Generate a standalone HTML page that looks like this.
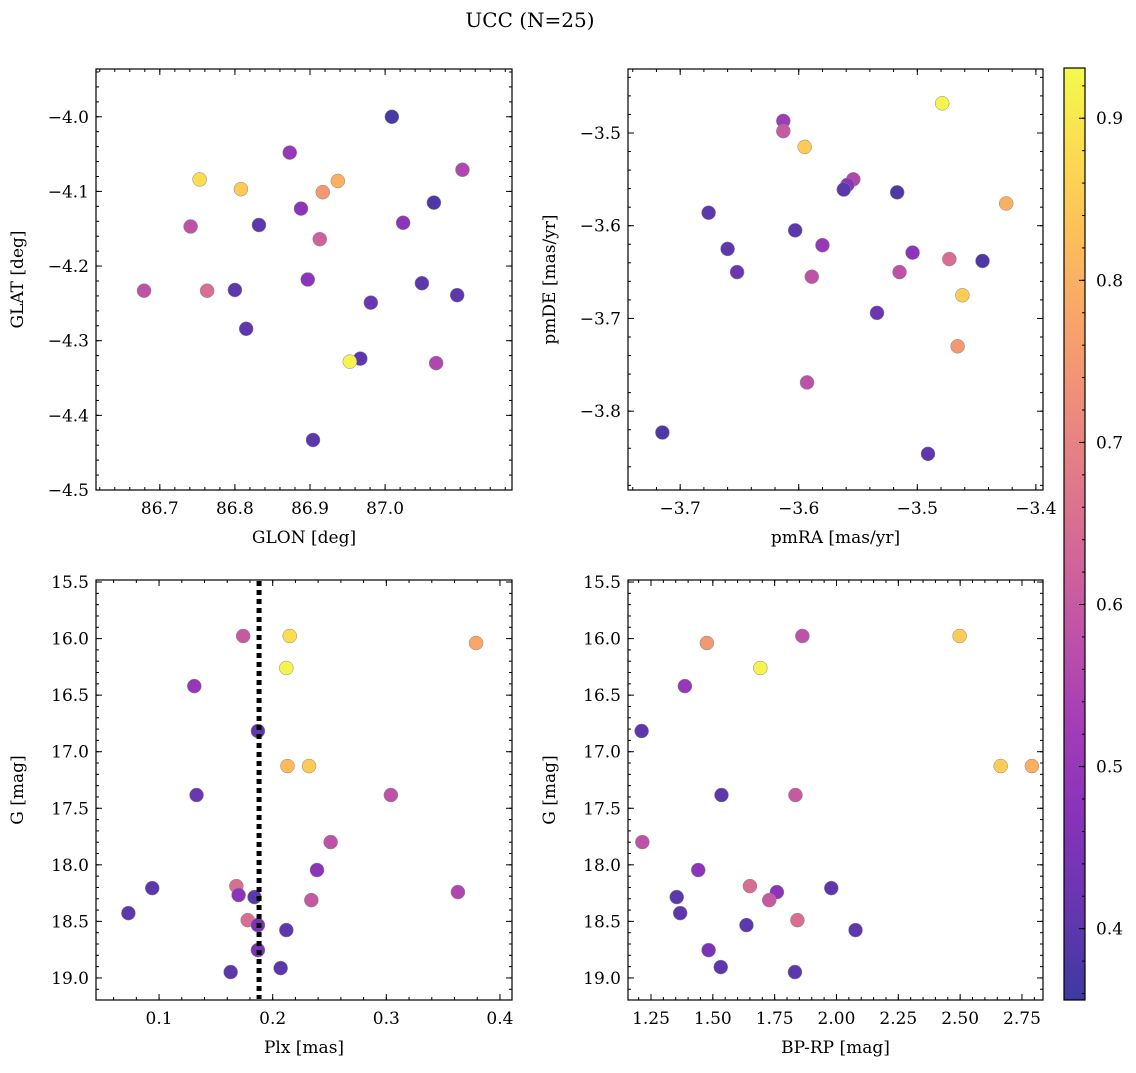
<!DOCTYPE html>
<html><head><meta charset="utf-8"><style>
body{margin:0;background:#fff;}
svg text{font-family:"DejaVu Serif","Liberation Serif",serif;fill:#000;}
</style></head><body>
<svg id="fig" width="1136" height="1068" xmlns="http://www.w3.org/2000/svg">
<text x="530" y="27" font-size="20" text-anchor="middle">UCC (N=25)</text>
</svg>
<script>
// Panel 1: GLON vs GLAT
const glonA=[87.009,87.103,87.065,86.873,86.753,86.808,86.937,86.917,86.888,86.741,86.832,86.913,87.024,86.679,86.763,86.800,86.897,87.049,87.096,86.981,86.815,86.967,86.953,87.068,86.904];
const glatA=[-4.000,-4.071,-4.115,-4.048,-4.084,-4.097,-4.086,-4.101,-4.123,-4.147,-4.145,-4.164,-4.142,-4.233,-4.233,-4.232,-4.218,-4.223,-4.239,-4.249,-4.284,-4.324,-4.328,-4.330,-4.433];
const probA=[0.37,0.55,0.38,0.50,0.88,0.85,0.80,0.75,0.48,0.58,0.40,0.62,0.48,0.58,0.65,0.40,0.48,0.40,0.40,0.42,0.40,0.40,0.92,0.55,0.40];
// Panel 2: pmRA vs pmDE
const pmraB=[-3.479,-3.613,-3.613,-3.595,-3.554,-3.559,-3.562,-3.517,-3.425,-3.676,-3.603,-3.580,-3.660,-3.504,-3.473,-3.445,-3.652,-3.515,-3.589,-3.462,-3.534,-3.466,-3.593,-3.715,-3.491];
const pmdeB=[-3.468,-3.487,-3.498,-3.515,-3.550,-3.556,-3.561,-3.564,-3.576,-3.586,-3.605,-3.621,-3.625,-3.629,-3.636,-3.638,-3.650,-3.650,-3.655,-3.675,-3.694,-3.730,-3.769,-3.823,-3.846];
const probB=[0.92,0.52,0.60,0.85,0.55,0.48,0.40,0.38,0.80,0.40,0.40,0.50,0.40,0.48,0.65,0.38,0.42,0.58,0.58,0.85,0.42,0.75,0.58,0.38,0.40];
// Panel 3: Plx vs G
const plxC=[0.174,0.215,0.379,0.212,0.131,0.187,0.213,0.232,0.133,0.304,0.251,0.239,0.094,0.168,0.363,0.170,0.184,0.234,0.073,0.178,0.187,0.212,0.187,0.163,0.207];
const gC=[15.977,15.977,16.039,16.260,16.420,16.817,17.127,17.127,17.383,17.383,17.799,18.046,18.206,18.188,18.241,18.267,18.285,18.312,18.427,18.489,18.533,18.577,18.754,18.948,18.913];
const probC=[0.60,0.88,0.78,0.92,0.50,0.40,0.82,0.85,0.42,0.58,0.58,0.48,0.40,0.65,0.55,0.48,0.40,0.60,0.40,0.65,0.45,0.40,0.45,0.40,0.40];
const plxRef=0.188;
// Panel 4: BP-RP vs G
const bprpD=[1.862,2.498,1.476,1.692,1.387,1.212,2.664,2.790,1.535,1.834,1.215,1.441,1.979,1.650,1.759,1.728,1.354,1.368,1.842,1.636,2.077,1.483,1.532,1.832];
const gD=[15.977,15.977,16.039,16.260,16.420,16.817,17.127,17.127,17.383,17.383,17.799,18.046,18.206,18.188,18.241,18.312,18.285,18.427,18.489,18.533,18.577,18.754,18.904,18.948];
const probD=[0.58,0.85,0.75,0.92,0.50,0.40,0.85,0.80,0.40,0.60,0.58,0.48,0.40,0.65,0.48,0.60,0.40,0.40,0.65,0.40,0.40,0.45,0.40,0.40];
const cbTicks=[0.4,0.5,0.6,0.7,0.8,0.9];

const NS="http://www.w3.org/2000/svg";
const svg=document.getElementById('fig');
const FS=17;
function mk(t,a,p){const e=document.createElementNS(NS,t);for(const k in a)e.setAttribute(k,a[k]);(p||svg).appendChild(e);return e;}
const stops=[[13,8,135],[65,4,157],[106,0,168],[143,13,164],[177,42,144],[204,71,120],[225,100,98],[242,132,75],[252,166,54],[252,206,37],[240,249,33]];
function plasma(t){t=Math.max(0,Math.min(1,t))*10;const i=Math.min(9,Math.floor(t)),f=t-i;const a=stops[i],b=stops[i+1];
 const c=a.map((v,k)=>Math.round((v+(b[k]-v)*f)*0.8+255*0.2));return `rgb(${c[0]},${c[1]},${c[2]})`;}
const cmin=0.356,cmax=0.931;
function fmt(v,d){let s=v.toFixed(d);return s.replace('-','\u2212');}
function panel(name,L,T,R,B,xr,yr,xt,xminor,xd,yt,yminor,yd,xlab,ylab,xs,ys,cs){
 const g=mk('g',{});
 
 
 const sx=v=>L+(v-xr[0])/(xr[1]-xr[0])*(R-L);
 const sy=v=>T+(yr[1]-v)/(yr[1]-yr[0])*(B-T);
 const pts=mk('g',{},g);
 
 
 for(let i=0;i<xs.length;i++){
  const c=mk('circle',{cx:sx(xs[i]),cy:sy(ys[i]),r:7,fill:plasma((cs[i]-cmin)/(cmax-cmin)),stroke:'#888','stroke-width':0.5},pts);
  
  
 }
 const ax=mk('g',{stroke:'#000','stroke-width':1},g);
 for(let v=Math.ceil(xr[0]/xminor)*xminor; v<=xr[1]; v+=xminor){const x=sx(v);mk('line',{x1:x,x2:x,y1:B,y2:B-3},ax);mk('line',{x1:x,x2:x,y1:T,y2:T+3},ax);}
 for(let v=Math.ceil(yr[0]/yminor)*yminor; v<=yr[1]; v+=yminor){const y=sy(v);mk('line',{x1:L,x2:L+3,y1:y,y2:y},ax);mk('line',{x1:R,x2:R-3,y1:y,y2:y},ax);}
 xt.forEach(v=>{const x=sx(v);mk('line',{x1:x,x2:x,y1:B,y2:B-6},ax);mk('line',{x1:x,x2:x,y1:T,y2:T+6},ax);
  const t=mk('text',{x:x,y:B+24,'font-size':FS,'text-anchor':'middle'},g);t.textContent=fmt(v,xd);
  });
 yt.forEach(v=>{const y=sy(v);mk('line',{x1:L,x2:L+6,y1:y,y2:y},ax);mk('line',{x1:R,x2:R-6,y1:y,y2:y},ax);
  const t=mk('text',{x:L-7,y:y+6,'font-size':FS,'text-anchor':'end'},g);t.textContent=fmt(v,yd);
  });
 mk('rect',{x:L,y:T,width:R-L,height:B-T,fill:'none',stroke:'#000','stroke-width':1.2},g);
 const xl=mk('text',{x:(L+R)/2,y:B+53,'font-size':FS,'text-anchor':'middle'},g);xl.textContent=xlab;
 
 const yl=mk('text',{x:0,y:0,'font-size':FS,'text-anchor':'middle',transform:`translate(${L-73},${(T+B)/2}) rotate(-90)`},g);yl.textContent=ylab;
 
 return {sx,sy,g};
}
panel('glon-glat-panel',96,69,512,490,[86.615,87.169],[-4.5,-3.936],[86.7,86.8,86.9,87.0],0.02,1,[-4.5,-4.4,-4.3,-4.2,-4.1,-4.0],0.02,1,'GLON [deg]','GLAT [deg]',glonA,glatA,probA);
panel('pm-panel',628,69,1043,490,[-3.744,-3.394],[-3.885,-3.431],[-3.7,-3.6,-3.5,-3.4],0.02,1,[-3.8,-3.7,-3.6,-3.5],0.02,1,'pmRA [mas/yr]','pmDE [mas/yr]',pmraB,pmdeB,probB);
const p3=panel('plx-g-panel',96,580,512,1000,[0.0445,0.4106],[-19.195,-15.482],[0.1,0.2,0.3,0.4],0.02,1,[],0.1,1,'Plx [mas]','G [mag]',plxC,gC.map(v=>-v),probC);
const p4=panel('cmd-panel',628,580,1043,1000,[1.157,2.835],[-19.195,-15.482],[1.25,1.5,1.75,2.0,2.25,2.5,2.75],0.05,2,[],0.1,1,'BP-RP [mag]','G [mag]',bprpD,gD.map(v=>-v),probD);
const gT=[15.5,16,16.5,17,17.5,18,18.5,19];
[[p3,96,512],[p4,628,1043]].forEach(([p,L,R])=>{gT.forEach(v=>{const y=p.sy(-v);
 mk('line',{x1:L,x2:L+6,y1:y,y2:y,stroke:'#000'},p.g);mk('line',{x1:R,x2:R-6,y1:y,y2:y,stroke:'#000'},p.g);
 const t=mk('text',{x:L-7,y:y+6,'font-size':FS,'text-anchor':'end'},p.g);t.textContent=v.toFixed(1);
 });});
const ref=mk('line',{x1:p3.sx(plxRef),x2:p3.sx(plxRef),y1:581,y2:999,stroke:'#000','stroke-width':5,'stroke-dasharray':'5,4'});


const cb=mk('g',{});


const cbT=68,cbB=1000,cbL=1064,cbR=1085;
for(let y=cbT;y<cbB;y++){const v=cmax-(y-cbT+0.5)/(cbB-cbT)*(cmax-cmin);mk('rect',{x:cbL,y:y,width:cbR-cbL,height:1.2,fill:plasma((v-cmin)/(cmax-cmin))},cb);}
mk('rect',{x:cbL,y:cbT,width:cbR-cbL,height:cbB-cbT,fill:'none',stroke:'#000','stroke-width':1.2},cb);
const cy=v=>cbT+(cmax-v)/(cmax-cmin)*(cbB-cbT);
for(let v=0.36;v<cmax;v+=0.02){mk('line',{x1:cbR,x2:cbR-3,y1:cy(v),y2:cy(v),stroke:'#000'},cb);}
cbTicks.forEach(v=>{mk('line',{x1:cbR,x2:cbR-6,y1:cy(v),y2:cy(v),stroke:'#000'},cb);
 const t=mk('text',{x:cbR+11,y:cy(v)+6,'font-size':FS},cb);t.textContent=v.toFixed(1);
 });
</script>
</body></html>
